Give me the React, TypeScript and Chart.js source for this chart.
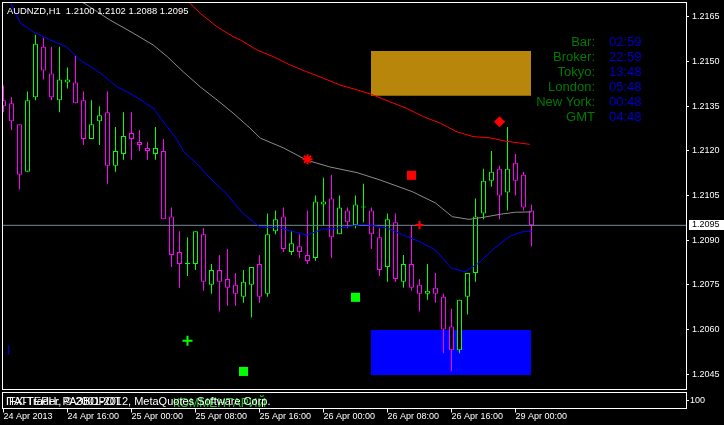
import React, { useEffect, useRef } from "react";
import { Chart, registerables } from "chart.js";

Chart.register(...registerables);

// ---------- data ----------
const opens = [1.2137, 1.2136, 1.2129, 1.2113, 1.2138, 1.2155, 1.2146, 1.2137, 1.2143, 1.2143, 1.2137, 1.2124, 1.2130, 1.2133, 1.2115, 1.2119, 1.2126, 1.2123, 1.2121, 1.2119, 1.2120, 1.2098, 1.2086, 1.2082, 1.2082, 1.2092, 1.2075, 1.2080, 1.2077, 1.2075, 1.2071, 1.2075, 1.2082, 1.2072, 1.2093, 1.2098, 1.2086, 1.2088, 1.2085, 1.2084, 1.2102, 1.2104, 1.2092, 1.2100, 1.2095, 1.2101, 1.2100, 1.2091, 1.2081, 1.2096, 1.2076, 1.2082, 1.2075, 1.2072, 1.2074, 1.2071, 1.2061, 1.2053, 1.2071, 1.2079, 1.2099, 1.2110, 1.2114, 1.2106, 1.2116, 1.2112, 1.2100];
const highs = [1.2142, 1.2138, 1.2129, 1.2140, 1.2159, 1.2158, 1.2155, 1.2155, 1.2148, 1.2152, 1.2140, 1.2137, 1.2135, 1.2140, 1.2128, 1.2133, 1.2133, 1.2127, 1.2123, 1.2128, 1.2124, 1.2101, 1.2093, 1.2091, 1.2093, 1.2094, 1.2082, 1.2085, 1.2087, 1.2079, 1.2080, 1.2081, 1.2085, 1.2099, 1.2100, 1.2101, 1.2093, 1.2092, 1.2100, 1.2105, 1.2111, 1.2112, 1.2105, 1.2101, 1.2105, 1.2109, 1.2101, 1.2094, 1.2099, 1.2099, 1.2085, 1.2095, 1.2077, 1.2082, 1.2079, 1.2072, 1.2067, 1.2070, 1.2079, 1.2104, 1.2114, 1.2120, 1.2115, 1.2128, 1.2119, 1.2113, 1.2102];
const lows = [1.2133, 1.2127, 1.2107, 1.2113, 1.2137, 1.2144, 1.2137, 1.2133, 1.2141, 1.2136, 1.2122, 1.2124, 1.2122, 1.2109, 1.2113, 1.2117, 1.2117, 1.2120, 1.2117, 1.2117, 1.2097, 1.2081, 1.2074, 1.2078, 1.2080, 1.2073, 1.2072, 1.2066, 1.2068, 1.2068, 1.2069, 1.2064, 1.2069, 1.2071, 1.2092, 1.2086, 1.2085, 1.2084, 1.2082, 1.2083, 1.2095, 1.2084, 1.2092, 1.2094, 1.2094, 1.2096, 1.2087, 1.2078, 1.2076, 1.2076, 1.2074, 1.2073, 1.2066, 1.2070, 1.2069, 1.2052, 1.2046, 1.2052, 1.2065, 1.2076, 1.2097, 1.2108, 1.2097, 1.2100, 1.2105, 1.2100, 1.2088];
const closes = [1.2135, 1.2130, 1.2112, 1.2137, 1.2156, 1.2147, 1.2138, 1.2144, 1.2144, 1.2136, 1.2124, 1.2129, 1.2132, 1.2115, 1.2120, 1.2125, 1.2124, 1.2122, 1.2120, 1.2121, 1.2097, 1.2085, 1.2082, 1.2082, 1.2093, 1.2076, 1.2080, 1.2076, 1.2074, 1.2072, 1.2076, 1.2081, 1.2071, 1.2092, 1.2097, 1.2087, 1.2089, 1.2086, 1.2083, 1.2103, 1.2103, 1.2091, 1.2101, 1.2096, 1.2102, 1.2101, 1.2092, 1.2080, 1.2097, 1.2077, 1.2082, 1.2074, 1.2072, 1.2073, 1.2072, 1.2060, 1.2053, 1.2070, 1.2079, 1.2098, 1.2110, 1.2113, 1.2105, 1.2114, 1.2110, 1.2101, 1.2095];

const xTickIdx = [0, 8, 16, 24, 32, 40, 48, 56, 64];
const xTickLabels = ["24 Apr 2013", "24 Apr 16:00", "25 Apr 00:00", "25 Apr 08:00", "25 Apr 16:00", "26 Apr 00:00", "26 Apr 08:00", "26 Apr 16:00", "29 Apr 00:00"];
const yTickValues = [1.2045, 1.206, 1.2075, 1.209, 1.2105, 1.212, 1.2135, 1.215, 1.2165];

const blueMaX = [0.84, 2.1, 3.7, 5.8, 7.9, 9.6, 12.1, 14.2, 16.2, 18.7, 20.5, 21.7, 22.6, 24.1, 25.7, 27.8, 29.9, 32.0, 34.6, 37.9, 39.9, 42.1, 45.0, 48.0, 50.0, 52.0, 54.0, 56.0, 57.7, 59.4, 61.1, 63.2, 64.8, 66.0];
const blueMaY = [1.217, 1.2163, 1.216, 1.21573, 1.21549, 1.21505, 1.21462, 1.21415, 1.21388, 1.21344, 1.2128, 1.21237, 1.21195, 1.21159, 1.21112, 1.21058, 1.20991, 1.20945, 1.20941, 1.20917, 1.20937, 1.20941, 1.20954, 1.20941, 1.20917, 1.20895, 1.20867, 1.20806, 1.20794, 1.20823, 1.20867, 1.20912, 1.20928, 1.2093];
const grayMaX = [8.5, 9.8, 13.3, 16.2, 18.7, 20.5, 22.5, 24.6, 26.7, 28.7, 30.8, 32.1, 35.0, 37.9, 40.8, 44.2, 47.1, 51.1, 54.0, 56.1, 58.2, 60.2, 62.3, 64.0, 66.0];
const grayMaY = [1.21724, 1.21701, 1.2164, 1.21596, 1.21556, 1.21516, 1.21465, 1.21415, 1.21371, 1.21327, 1.21277, 1.21243, 1.2121, 1.21169, 1.21146, 1.21127, 1.21102, 1.21063, 1.21025, 1.20979, 1.2097, 1.20978, 1.20988, 1.20994, 1.20995];
const redMaX = [21.8, 22.9, 24.6, 26.7, 28.7, 29.6, 31.7, 33.7, 35.8, 37.9, 40.0, 42.1, 44.2, 46.0, 48.3, 50.4, 52.5, 54.6, 56.7, 58.7, 60.8, 62.7, 65.8];
const redMaY = [1.21734, 1.21707, 1.21662, 1.21617, 1.21584, 1.21573, 1.21539, 1.21517, 1.21489, 1.21466, 1.21444, 1.21421, 1.21405, 1.2139, 1.21365, 1.21343, 1.21315, 1.21293, 1.21264, 1.21248, 1.21244, 1.21233, 1.21222];

const rectX = [45.94, 65.94];
const goldRectPrices = [1.21536, 1.21385];
const blueRectPrices = [1.20598, 1.20447];

const markerX = [62, 51, 38, 52, 44, 30, 23];
const markerY = [1.21298, 1.21118, 1.21172, 1.20951, 1.20708, 1.20459, 1.20562];
const markerShape = ["rectRot", "rect", "star", "cross", "rect", "rect", "cross"];
const markerColor = ["#ff0000", "#ff0000", "#ff0000", "#ff0000", "#00ff00", "#00ff00", "#00ff00"];
const markerRadius = [5.5, 6.4, 5, 4, 6.4, 6.4, 5];

const blueTickX = [0.6];
const blueTickRange = [1.20514, 1.20547];

const bidPrice = 1.2095;
const titleText = "AUDNZD,H1  1.2100 1.2102 1.2088 1.2095";
const infoLabels = ["Bar:", "Broker:", "Tokyo:", "London:", "New York:", "GMT"];
const infoValues = ["02:59", "22:59", "13:48", "05:48", "00:48", "04:48"];
const footerText = "IFX-Trader, © 2001-2012, MetaQuotes Software Corp.";
const footerOverlay = "ПАТТЕРН: РАЗВОРОТ";
const footerComment = "КОММЕНТАРИЙ";
const subWindowLabel = "100";

const FONT = '"Liberation Sans", Arial, sans-serif';
const BULL = "#00ff00";
const BEAR = "#ff00ff";

const mtPlugin = {
  id: "mtOverlay",
  beforeDraw(chart: any) {
    const { ctx, width, height } = chart;
    ctx.save();
    ctx.fillStyle = "#000";
    ctx.fillRect(0, 0, width, height);
    ctx.restore();
  },
  afterDraw(chart: any) {
    const { ctx } = chart;
    const ca = chart.chartArea;
    const xs = chart.scales.x;
    const ys = chart.scales.y;
    ctx.save();
    ctx.strokeStyle = "#fff";
    ctx.lineWidth = 1;
    // main window frame
    ctx.strokeRect(ca.left - 0.5, ca.top - 0.5, ca.right - ca.left + 1, ca.bottom - ca.top + 1);
    // sub window frame
    const subTop = ca.bottom + 3.5;
    const subBottom = ca.bottom + 19.5;
    ctx.strokeRect(ca.left - 0.5, subTop, ca.right - ca.left + 1, subBottom - subTop);
    // time ticks under sub window
    ctx.beginPath();
    for (const v of xTickIdx) {
      const px = Math.floor(xs.getPixelForValue(v)) + 0.5;
      ctx.moveTo(px, subBottom);
      ctx.lineTo(px, subBottom + 4);
    }
    ctx.moveTo(ca.right, (subTop + subBottom) / 2);
    ctx.lineTo(ca.right + 3, (subTop + subBottom) / 2);
    ctx.stroke();

    // title
    ctx.fillStyle = "#fff";
    ctx.font = `9.4px ${FONT}`;
    ctx.textAlign = "left";
    ctx.textBaseline = "alphabetic";
    ctx.fillText(titleText, 7, 14);

    // sub window texts
    ctx.font = `12px ${FONT}`;
    ctx.fillStyle = "#1ec81e";
    ctx.fillText(footerComment, 173, 407);
    ctx.font = `11px ${FONT}`;
    ctx.fillStyle = "#fff";
    ctx.fillText(footerOverlay, 6, 405);
    ctx.fillText(footerText, 6, 405);
    ctx.font = `9px ${FONT}`;
    ctx.textBaseline = "middle";
    ctx.fillText(subWindowLabel, ca.right + 4, (subTop + subBottom) / 2);

    // info panel
    ctx.font = `13px ${FONT}`;
    ctx.textBaseline = "alphabetic";
    infoLabels.forEach((t, k) => {
      ctx.fillStyle = "#007a00";
      ctx.textAlign = "right";
      ctx.fillText(t, 595, 46 + 15 * k);
      ctx.fillStyle = "#0000cc";
      ctx.textAlign = "left";
      ctx.fillText(infoValues[k], 609, 46 + 15 * k);
    });

    // current price label
    const py = ys.getPixelForValue(bidPrice);
    ctx.fillStyle = "#fff";
    ctx.fillRect(ca.right + 3, Math.round(py) - 5, 724 - ca.right - 3, 10);
    ctx.fillStyle = "#000";
    ctx.font = `9px ${FONT}`;
    ctx.textAlign = "left";
    ctx.textBaseline = "middle";
    ctx.fillText(bidPrice.toFixed(4), ca.right + 6, Math.round(py));
    ctx.restore();
  },
};

const zeroPad = (s: any) => {
  s.paddingLeft = 0;
  s.paddingRight = 0;
  s.paddingTop = 0;
  s.paddingBottom = 0;
};

export default function App() {
  const ref = useRef<HTMLCanvasElement | null>(null);
  useEffect(() => {
    document.body.style.margin = "0";
    document.body.style.background = "#000";
    const canvas = ref.current!;
    const idx = opens.map((_, i) => i);
    const colors = idx.map((i) => (closes[i] >= opens[i] ? BULL : BEAR));
    const wickData = idx.map((i) => ({ x: i, y: [lows[i], highs[i]] }));
    const bodyData = idx.map((i) => ({ x: i, y: [Math.min(opens[i], closes[i]), Math.max(opens[i], closes[i])] }));
    const pts = (xa: number[], ya: number[]) => xa.map((x, k) => ({ x, y: ya[k] }));
    const rectLine = (p: number) => rectX.map((x) => ({ x, y: p }));
    const lineBase = { type: "line", pointRadius: 0, borderWidth: 1, tension: 0, fill: false };

    const chart = new Chart(canvas, {
      type: "bar",
      data: {
        datasets: [
          { ...lineBase, label: "goldTop", data: rectLine(goldRectPrices[0]), borderColor: "rgba(0,0,0,0)", backgroundColor: "#b8860b", fill: "+1", order: 10 },
          { ...lineBase, label: "goldBottom", data: rectLine(goldRectPrices[1]), borderColor: "rgba(0,0,0,0)", order: 10 },
          { ...lineBase, label: "blueTop", data: rectLine(blueRectPrices[0]), borderColor: "rgba(0,0,0,0)", backgroundColor: "#0000ff", fill: "+1", order: 10 },
          { ...lineBase, label: "blueBottom", data: rectLine(blueRectPrices[1]), borderColor: "rgba(0,0,0,0)", order: 10 },
          { type: "bar", label: "wicks", data: wickData, backgroundColor: colors, borderWidth: 0, barThickness: 1, grouped: false, inflateAmount: 0, order: 6 },
          { type: "bar", label: "bodies", data: bodyData, backgroundColor: "#000", borderColor: colors, borderWidth: 1, borderSkipped: false, barThickness: 5, grouped: false, inflateAmount: 0, minBarLength: 1, order: 5 },
          { type: "bar", label: "blueTick", data: blueTickX.map((x) => ({ x, y: blueTickRange })), backgroundColor: "#0000ff", borderWidth: 0, barThickness: 1, grouped: false, inflateAmount: 0, order: 5 },
          { ...lineBase, label: "bid", data: [{ x: -1, y: bidPrice }, { x: 100, y: bidPrice }], borderColor: "#778899", order: 4 },
          { ...lineBase, label: "maFast", data: pts(blueMaX, blueMaY), borderColor: "#0000ff", order: 3 },
          { ...lineBase, label: "maMid", data: pts(grayMaX, grayMaY), borderColor: "#8c8c8c", order: 3 },
          { ...lineBase, label: "maSlow", data: pts(redMaX, redMaY), borderColor: "#ff0000", order: 3 },
          {
            type: "line", label: "markers", data: pts(markerX, markerY), showLine: false,
            pointStyle: markerShape, pointRadius: markerRadius,
            pointBackgroundColor: markerColor, pointBorderColor: markerColor,
            pointBorderWidth: markerShape.map((s) => (s === "rect" || s === "rectRot" ? 0 : 2)),
            order: 1,
          },
        ] as any,
      },
      options: {
        animation: false,
        responsive: false,
        devicePixelRatio: 1,
        events: [],
        layout: { autoPadding: false, padding: { left: 3, top: 3, right: 0, bottom: 0 } },
        plugins: { legend: { display: false }, tooltip: { enabled: false }, title: { display: false } },
        scales: {
          x: {
            type: "linear", min: -0.0625, max: 85.3125, offset: false,
            grid: { display: false, drawTicks: false, offset: false },
            border: { display: false },
            ticks: {
              color: "#fff", font: { family: FONT, size: 9 }, align: "start", padding: 22, maxRotation: 0, autoSkip: false,
              callback: (v: any) => { const k = xTickIdx.indexOf(Number(v)); return k >= 0 ? xTickLabels[k] : ""; },
            },
            afterBuildTicks: (s: any) => { s.ticks = xTickIdx.map((v) => ({ value: v })); },
            afterFit: (s: any) => { s.height = 36; zeroPad(s); },
          },
          y: {
            type: "linear", position: "right", min: 1.204, max: 1.21697,
            grid: { drawOnChartArea: false, drawTicks: true, tickLength: 3, color: "#fff" },
            border: { display: false },
            ticks: { color: "#fff", font: { family: FONT, size: 9 }, padding: 3, callback: (v: any) => Number(v).toFixed(4) },
            afterBuildTicks: (s: any) => { s.ticks = yTickValues.map((v) => ({ value: v })); },
            afterFit: (s: any) => { s.width = 38; zeroPad(s); },
          },
        },
      } as any,
      plugins: [mtPlugin],
    });
    return () => chart.destroy();
  }, []);
  return <canvas ref={ref} width={724} height={425} style={{ display: "block" }} />;
}
